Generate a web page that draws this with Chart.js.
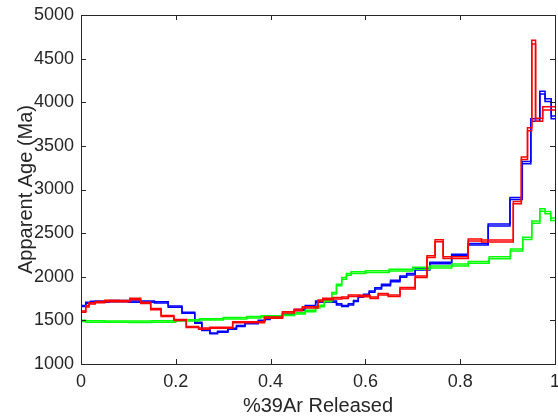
<!DOCTYPE html>
<html lang="en">
<head>
    <meta charset="UTF-8">
    <title>Apparent Age Spectra</title>
    <script src="https://cdn.jsdelivr.net/npm/chart.js"></script>
    <style>
        body { margin: 0; background: #fff; }
        #wrap { width: 558px; height: 419px; }
    </style>
</head>
<body>
    <div id="wrap"><canvas id="ageChart" width="558" height="419"></canvas></div>

    <script>
        // axis ticks
        const xTicks = [0, 0.2, 0.4, 0.6, 0.8, 1];
        const xTickLabels = ['0', '0.2', '0.4', '0.6', '0.8', '1'];
        const yTicks = [1000, 1500, 2000, 2500, 3000, 3500, 4000, 4500, 5000];

        // red spectrum: step edges (fraction of 39Ar) and apparent ages (Ma)
        const redEdges = [0, 0.010, 0.017, 0.030, 0.050, 0.080, 0.103, 0.126, 0.147, 0.169, 0.196,
            0.222, 0.248, 0.272, 0.320, 0.387, 0.425, 0.450, 0.467, 0.500, 0.510, 0.532, 0.550,
            0.564, 0.589, 0.610, 0.627, 0.648, 0.673, 0.705, 0.730, 0.747, 0.764, 0.817, 0.845,
            0.912, 0.929, 0.942, 0.951, 0.959, 0.974, 1.0];
        const redAge = [1600, 1660, 1695, 1710, 1722, 1720, 1745, 1700, 1630, 1550, 1504,
            1424, 1405, 1416, 1478, 1531, 1592, 1619, 1650, 1725, 1745, 1753, 1760,
            1783, 1779, 1760, 1799, 1783, 1867, 2001, 2230, 2413, 2218, 2421, 2410,
            2850, 3358, 3690, 4690, 3800, 3930];
        const redRelErr = 0.0045;

        // blue spectrum
        const blueEdges = [0, 0.010, 0.020, 0.030, 0.060, 0.100, 0.155, 0.184, 0.213, 0.240, 0.255,
            0.272, 0.288, 0.310, 0.328, 0.346, 0.374, 0.388, 0.399, 0.425, 0.450, 0.473, 0.495,
            0.539, 0.550, 0.564, 0.575, 0.585, 0.596, 0.608, 0.620, 0.634, 0.653, 0.673, 0.687,
            0.705, 0.736, 0.782, 0.817, 0.859, 0.905, 0.931, 0.949, 0.968, 0.979, 0.992, 1.0];
        const blueAge = [1665, 1700, 1712, 1716, 1720, 1716, 1707, 1657, 1588, 1474,
            1390, 1351, 1370, 1405, 1435, 1466, 1496, 1516, 1535, 1565, 1619, 1665,
            1716, 1684, 1665, 1684, 1722, 1771, 1791, 1829, 1867, 1905, 1951, 2001,
            2028, 2085, 2157, 2249, 2372, 2593, 2898, 3307, 3797, 4110, 4025, 3827];
        const blueRelErr = 0.004;

        // green spectrum
        const greenEdges = [0, 0.010, 0.050, 0.100, 0.150, 0.200, 0.250, 0.300, 0.350, 0.380,
            0.425, 0.450, 0.473, 0.495, 0.504, 0.513, 0.529, 0.539, 0.550, 0.560, 0.570,
            0.600, 0.650, 0.700, 0.736, 0.782, 0.817, 0.861, 0.906, 0.932, 0.951, 0.968,
            0.979, 0.991, 1.0];
        const greenAge = [1495, 1487, 1485, 1484, 1487, 1500, 1512, 1524, 1536, 1545,
            1565, 1580, 1607, 1650, 1665, 1722, 1810, 1905, 1982, 2028,
            2047, 2058, 2075, 2097, 2112, 2135, 2165, 2218, 2306, 2440, 2625,
            2765, 2735, 2659];
        const greenRelErr = 0.005;

        // turn a step spectrum into x/y points (one horizontal segment per step)
        function stepPoints(edges, ages, relErr, sign) {
            const pts = [];
            for (let i = 0; i < ages.length; i++) {
                const y = ages[i] * (1 + sign * relErr);
                pts.push({ x: edges[i], y: y });
                pts.push({ x: edges[i + 1], y: y });
            }
            return pts;
        }

        function band(edges, ages, relErr, color) {
            return [1, -1].map(sign => ({
                data: stepPoints(edges, ages, relErr, sign),
                borderColor: color, borderWidth: 1.5, pointRadius: 0, fill: false, tension: 0
            }));
        }

        const axisColor = '#262626';
        const fontFamily = '"Liberation Sans", Arial, Helvetica, sans-serif';

        // MATLAB style box with inward ticks
        const boxPlugin = {
            id: 'box',
            afterDraw(chart) {
                const { ctx, chartArea: a, scales } = chart;
                ctx.save();
                ctx.strokeStyle = axisColor;
                ctx.lineWidth = 1;
                ctx.strokeRect(a.left + 0.5, a.top + 0.5, a.right - a.left, a.bottom - a.top);
                ctx.beginPath();
                xTicks.forEach(v => {
                    const px = Math.round(scales.x.getPixelForValue(v)) + 0.5;
                    ctx.moveTo(px, a.bottom); ctx.lineTo(px, a.bottom - 5);
                    ctx.moveTo(px, a.top); ctx.lineTo(px, a.top + 5);
                });
                yTicks.forEach(v => {
                    const py = Math.round(scales.y.getPixelForValue(v)) + 0.5;
                    ctx.moveTo(a.left, py); ctx.lineTo(a.left + 5, py);
                    ctx.moveTo(a.right, py); ctx.lineTo(a.right - 5, py);
                });
                ctx.stroke();
                ctx.restore();
            }
        };

        new Chart(document.getElementById('ageChart'), {
            type: 'line',
            data: {
                datasets: [
                    ...band(redEdges, redAge, redRelErr, '#ff0000'),
                    ...band(greenEdges, greenAge, greenRelErr, '#00ff00'),
                    ...band(blueEdges, blueAge, blueRelErr, '#0000ff')
                ]
            },
            options: {
                responsive: false,
                animation: false,
                layout: { padding: { left: 0, right: 3, top: 15, bottom: 0 } },
                plugins: { legend: { display: false }, tooltip: { enabled: false } },
                scales: {
                    x: {
                        type: 'linear', min: 0, max: 1,
                        grid: { display: false, drawTicks: false },
                        border: { display: false },
                        afterBuildTicks: s => { s.ticks = xTicks.map(v => ({ value: v })); },
                        afterFit: s => { s.height = 55; s.paddingLeft = 0; s.paddingRight = 0; },
                        ticks: {
                            color: axisColor, padding: 7, maxRotation: 0,
                            font: { family: fontFamily, size: 18 },
                            callback: (v) => xTickLabels[xTicks.indexOf(v)]
                        },
                        title: {
                            display: true, text: '%39Ar Released', color: axisColor,
                            font: { family: fontFamily, size: 20 }, padding: { top: 0, bottom: 1 }
                        }
                    },
                    y: {
                        type: 'linear', min: 1000, max: 5000,
                        grid: { display: false, drawTicks: false },
                        border: { display: false },
                        afterBuildTicks: s => { s.ticks = yTicks.map(v => ({ value: v })); },
                        afterFit: s => { s.width = 81; s.paddingTop = 0; s.paddingBottom = 0; },
                        ticks: {
                            color: axisColor, padding: 7,
                            font: { family: fontFamily, size: 18 },
                            callback: (v) => String(v)
                        },
                        title: {
                            display: true, text: 'Apparent Age (Ma)', color: axisColor,
                            font: { family: fontFamily, size: 20 }, padding: { top: 14, bottom: 0 }
                        }
                    }
                }
            },
            plugins: [boxPlugin]
        });
    </script>
</body>
</html>
